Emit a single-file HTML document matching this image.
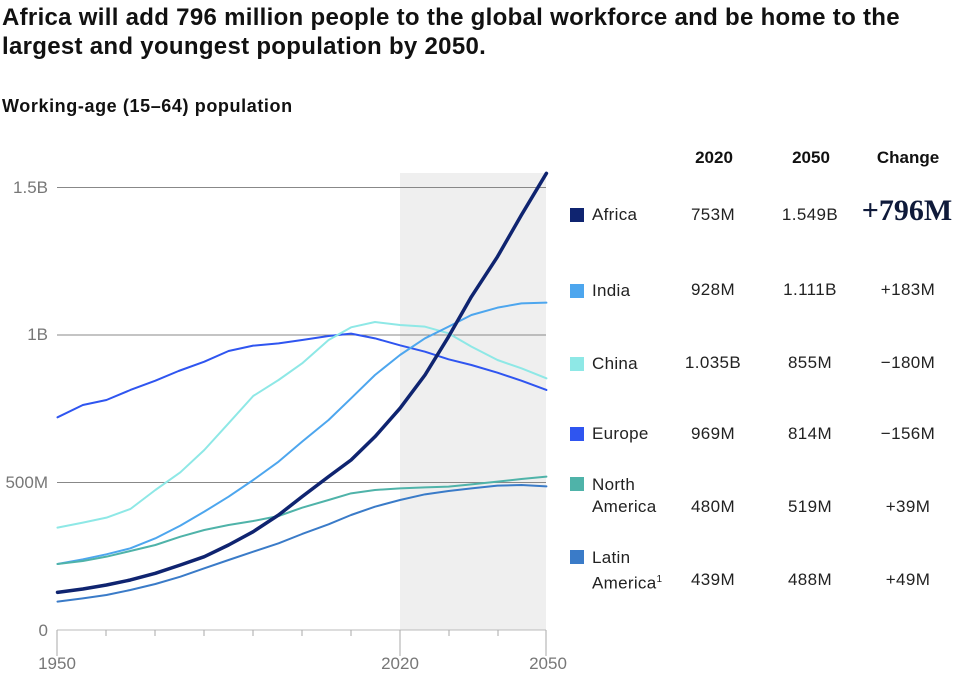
<!DOCTYPE html>
<html><head><meta charset="utf-8"><style>
body{margin:0;width:955px;height:675px;background:#fff;font-family:"Liberation Sans",sans-serif;color:#111;position:relative;overflow:hidden}
.a{position:absolute;white-space:nowrap}
.t{font-size:24px;letter-spacing:0.3px;font-weight:bold;line-height:29px;left:2px;top:3px;color:#111}
.s{font-size:18px;letter-spacing:0.6px;font-weight:bold;left:2px;top:96px}
.h{font-size:17px;font-weight:bold;top:148px;width:100px;text-align:center}
.c{font-size:17px;letter-spacing:0.4px;width:100px;text-align:center;color:#222}
.n{font-size:17px;letter-spacing:0.3px;left:592px;color:#222;line-height:22px}
.sq{position:absolute;left:570px;width:14px;height:14px}
.yl{font-size:17px;color:#777;text-align:right;width:48px;left:0}
.xl{font-size:17px;color:#777;top:653px;width:60px;text-align:center}
</style></head><body>
<div class="a t">Africa will add 796 million people to the global workforce and be home to the<br>largest and youngest population by 2050.</div>
<div class="a s">Working-age (15–64) population</div>
<svg class="a" style="left:0;top:0" width="560" height="675">
<rect x="400" y="173" width="146" height="457" fill="#efefef"/>
<g stroke="#888" stroke-width="1">
<line x1="57" y1="187.5" x2="546" y2="187.5"/>
<line x1="57" y1="335" x2="546" y2="335"/>
<line x1="57" y1="482.5" x2="546" y2="482.5"/>
<line x1="57" y1="630" x2="546" y2="630" stroke="#bbb"/>
<line x1="57" y1="630" x2="57" y2="656" stroke="#aaa"/>
<line x1="400" y1="630" x2="400" y2="656" stroke="#aaa"/>
<line x1="546" y1="630" x2="546" y2="656" stroke="#aaa"/>
</g>
<g stroke="#aaa" stroke-width="1">
<line x1="106" y1="630" x2="106" y2="636"/><line x1="155" y1="630" x2="155" y2="636"/><line x1="204" y1="630" x2="204" y2="636"/><line x1="253" y1="630" x2="253" y2="636"/><line x1="302" y1="630" x2="302" y2="636"/><line x1="351" y1="630" x2="351" y2="636"/><line x1="449" y1="630" x2="449" y2="636"/><line x1="498" y1="630" x2="498" y2="636"/>
</g>
<g transform="translate(0,160) scale(0.35714,0.33333)" fill="none" stroke-linejoin="round" stroke-linecap="round">
<polyline vector-effect="non-scaling-stroke" stroke="#2f55f0" stroke-width="2" points="161,772 232,735 298,720 365,690 435,662 500,633 572,605 640,573 709,557 780,550 846,540 920,528 983,521 1050,535 1120,556 1190,575 1256,598 1320,615 1393,638 1460,662 1530,690"/>
<polyline vector-effect="non-scaling-stroke" stroke="#8ee8e6" stroke-width="2" points="161,1103 232,1088 298,1073 365,1047 435,990 505,937 572,870 640,790 709,708 780,660 846,610 920,540 983,502 1050,486 1120,495 1190,500 1256,520 1320,560 1393,600 1460,625 1530,655"/>
<polyline vector-effect="non-scaling-stroke" stroke="#4da6ee" stroke-width="2" points="161,1212 232,1198 298,1183 365,1165 435,1135 505,1097 572,1055 640,1010 709,960 780,905 846,845 920,780 983,715 1050,645 1120,585 1190,535 1256,500 1320,465 1393,443 1460,430 1530,428"/>
<polyline vector-effect="non-scaling-stroke" stroke="#4fb3a9" stroke-width="2" points="161,1212 232,1203 298,1190 365,1173 435,1155 505,1130 572,1110 640,1095 709,1083 780,1068 846,1043 920,1020 983,1000 1050,990 1120,985 1190,982 1256,980 1320,973 1393,965 1460,957 1530,950"/>
<polyline vector-effect="non-scaling-stroke" stroke="#3a7bc8" stroke-width="2" points="161,1325 232,1315 298,1305 365,1290 435,1272 505,1250 572,1225 640,1200 709,1175 780,1150 846,1122 920,1093 983,1065 1050,1040 1120,1020 1190,1003 1256,993 1320,985 1393,977 1460,975 1530,979"/>
<polyline vector-effect="non-scaling-stroke" stroke="#0f2470" stroke-width="3.5" points="161,1297 232,1287 298,1275 365,1260 435,1240 505,1215 572,1190 640,1155 709,1115 780,1065 846,1010 920,950 983,900 1050,830 1120,745 1190,645 1256,530 1320,410 1393,290 1460,165 1530,40"/>
</g>
</svg>
<div class="a yl" style="top:178px">1.5B</div>
<div class="a yl" style="top:325px">1B</div>
<div class="a yl" style="top:473px">500M</div>
<div class="a yl" style="top:621px">0</div>
<div class="a xl" style="left:27px;top:654px">1950</div>
<div class="a xl" style="left:370px;top:654px">2020</div>
<div class="a xl" style="left:518px;top:654px">2050</div>

<div class="a h" style="left:664px">2020</div>
<div class="a h" style="left:761px">2050</div>
<div class="a h" style="left:858px">Change</div>

<div class="sq" style="top:208px;background:#0f2470"></div>
<div class="a n" style="top:204px">Africa</div>
<div class="a c" style="left:663px;top:205px">753M</div>
<div class="a c" style="left:760px;top:205px">1.549B</div>
<div class="a" style="left:857px;top:194px;width:100px;text-align:center;font-family:'Liberation Serif',serif;font-weight:bold;font-size:30px;color:#0f1a3a">+796M</div>

<div class="sq" style="top:284px;background:#4da6ee"></div>
<div class="a n" style="top:280px">India</div>
<div class="a c" style="left:663px;top:280px">928M</div>
<div class="a c" style="left:760px;top:280px">1.111B</div>
<div class="a c" style="left:858px;top:280px">+183M</div>

<div class="sq" style="top:357px;background:#8ee8e6"></div>
<div class="a n" style="top:353px">China</div>
<div class="a c" style="left:663px;top:353px">1.035B</div>
<div class="a c" style="left:760px;top:353px">855M</div>
<div class="a c" style="left:858px;top:353px">−180M</div>

<div class="sq" style="top:427px;background:#2f55f0"></div>
<div class="a n" style="top:423px">Europe</div>
<div class="a c" style="left:663px;top:424px">969M</div>
<div class="a c" style="left:760px;top:424px">814M</div>
<div class="a c" style="left:858px;top:424px">−156M</div>

<div class="sq" style="top:477px;background:#4fb3a9"></div>
<div class="a n" style="top:474px">North<br>America</div>
<div class="a c" style="left:663px;top:497px">480M</div>
<div class="a c" style="left:760px;top:497px">519M</div>
<div class="a c" style="left:858px;top:497px">+39M</div>

<div class="sq" style="top:550px;background:#3a7bc8"></div>
<div class="a n" style="top:547px">Latin<br>America<sup style="font-size:10px">1</sup></div>
<div class="a c" style="left:663px;top:570px">439M</div>
<div class="a c" style="left:760px;top:570px">488M</div>
<div class="a c" style="left:858px;top:570px">+49M</div>
</body></html>
